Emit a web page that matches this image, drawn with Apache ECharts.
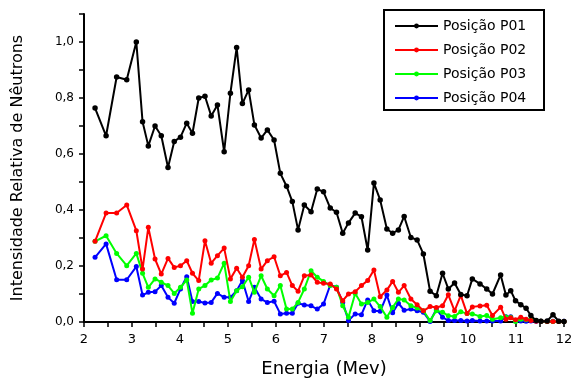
<!DOCTYPE html>
<html>
<head>
<meta charset="utf-8">
<script src="https://cdn.jsdelivr.net/npm/echarts@6/dist/echarts.min.js"></script>
<style>
  html, body { margin: 0; padding: 0; background: #fff; }
  #main { width: 582px; height: 383px; }
</style>
</head>
<body>
<div id="main"></div>
<script>
// energia (MeV) de cada ponto
const energia = [
  2.23, 2.46, 2.68, 2.89, 3.09, 3.22, 3.34, 3.48, 3.61, 3.75,
  3.88, 4.01, 4.14, 4.26, 4.39, 4.52, 4.65, 4.78, 4.92, 5.05,
  5.18, 5.30, 5.43, 5.55, 5.69, 5.82, 5.96, 6.09, 6.22, 6.34,
  6.46, 6.59, 6.73, 6.86, 6.99, 7.13, 7.26, 7.39, 7.51, 7.65,
  7.78, 7.91, 8.04, 8.17, 8.31, 8.43, 8.55, 8.67, 8.81, 8.94,
  9.07, 9.21, 9.34, 9.47, 9.59, 9.72, 9.85, 9.98, 10.09, 10.25,
  10.39, 10.51, 10.68, 10.79, 10.89, 10.99, 11.10, 11.21, 11.31, 11.42,
  11.52, 11.65, 11.77, 11.89, 12.0
]

const p01 = [
  0.764, 0.665, 0.875, 0.865, 1.0, 0.715, 0.629, 0.70, 0.665, 0.552,
  0.645, 0.66, 0.71, 0.674, 0.80, 0.806, 0.736, 0.775, 0.608, 0.817,
  0.98, 0.78, 0.829, 0.704, 0.657, 0.686, 0.65, 0.531, 0.485, 0.43,
  0.329, 0.418, 0.394, 0.475, 0.465, 0.407, 0.392, 0.317, 0.354, 0.389,
  0.376, 0.257, 0.496, 0.436, 0.332, 0.317, 0.329, 0.377, 0.302, 0.293,
  0.243, 0.11, 0.094, 0.174, 0.118, 0.139, 0.098, 0.094, 0.154, 0.136,
  0.118, 0.10, 0.168, 0.096, 0.112, 0.076, 0.062, 0.049, 0.023, 0.005,
  0.003, 0.004, 0.026, 0.003, 0.002
]

const p02 = [
  0.288, 0.389, 0.389, 0.418, 0.326, 0.189, 0.338, 0.225, 0.171, 0.227,
  0.195, 0.201, 0.219, 0.174, 0.148, 0.29, 0.21, 0.237, 0.264, 0.154,
  0.192, 0.16, 0.201, 0.295, 0.189, 0.219, 0.233, 0.165, 0.177, 0.13,
  0.11, 0.165, 0.168, 0.142, 0.138, 0.136, 0.118, 0.076, 0.10, 0.108,
  0.13, 0.148, 0.186, 0.09, 0.114, 0.145, 0.106, 0.13, 0.082, 0.062,
  0.04, 0.055, 0.052, 0.058, 0.097, 0.04, 0.095, 0.03, 0.054, 0.057,
  0.06, 0.023, 0.053, 0.01, 0.015, 0.008, 0.017, 0.01, 0.005, 0.003,
  0.003, 0.002, 0.002, 0.002, 0.002
]

const p03 = [
  0.288, 0.308, 0.245, 0.201, 0.245, 0.174, 0.124, 0.154, 0.142, 0.13,
  0.102, 0.124, 0.15, 0.031, 0.118, 0.13, 0.15, 0.157, 0.21, 0.073,
  0.112, 0.126, 0.16, 0.106, 0.165, 0.118, 0.094, 0.13, 0.046, 0.046,
  0.07, 0.118, 0.183, 0.16, 0.145, 0.13, 0.124, 0.058, 0.017, 0.102,
  0.064, 0.07, 0.082, 0.055, 0.017, 0.052, 0.082, 0.079, 0.058, 0.05,
  0.04, 0.005, 0.04, 0.035, 0.022, 0.02, 0.037, 0.03, 0.029, 0.02,
  0.023, 0.01, 0.015, 0.018, 0.017, 0.002, 0.01, 0.008, 0.01, 0.005,
  0.003, 0.002, 0.002, 0.002, 0.002
]

const p04 = [
  0.231, 0.279, 0.151, 0.151, 0.198, 0.096, 0.106, 0.108, 0.13, 0.088,
  0.067, 0.118, 0.162, 0.073, 0.073, 0.068, 0.07, 0.102, 0.088, 0.088,
  0.112, 0.148, 0.073, 0.124, 0.082, 0.07, 0.074, 0.029, 0.031, 0.031,
  0.067, 0.061, 0.058, 0.046, 0.064, 0.132, 0.124, 0.07, 0.005, 0.029,
  0.026, 0.079, 0.04, 0.038, 0.096, 0.033, 0.067, 0.042, 0.046, 0.04,
  0.035, 0.002, 0.046, 0.017, 0.005, 0.005, 0.005, 0.004, 0.005, 0.004,
  0.004, 0.004, 0.004, 0.019, 0.019, 0.004, 0.004, 0.003, 0.004, 0.003,
  0.003, 0.003, 0.003, 0.003, 0.003
]

const posicoes = ['Posição P01', 'Posição P02', 'Posição P03', 'Posição P04']
const cores = ['#000000', '#ff0000', '#00ff00', '#0000ff']
const valores = [p01, p02, p03, p04]

const fonte = 'DejaVu Sans'

const chart = echarts.init(document.getElementById('main'), null, { renderer: 'canvas' })

const series = posicoes.map((nome, k) => ({
  name: nome,
  type: 'line',
  data: energia.map((e, i) => [e, valores[k][i]]),
  symbol: 'circle',
  symbolSize: k === 0 ? 5.5 : 5,
  showSymbol: true,
  itemStyle: { color: cores[k] },
  lineStyle: { color: cores[k], width: 2 },
  z: 10 - k,
}))

chart.setOption({
  animation: false,
  grid: {
    left: 84,
    right: 18,
    top: 14,
    bottom: 60,
  },
  // moldura da legenda
  graphic: [{
    type: 'rect',
    left: 383,
    top: 9,
    shape: { width: 160, height: 100 },
    style: { fill: '#fff', stroke: '#000', lineWidth: 2 },
    z: 50,
  }],
  legend: {
    data: posicoes,
    orient: 'vertical',
    left: 394,
    top: 19,
    itemWidth: 43,
    itemHeight: 6,
    itemGap: 10,
    padding: 0,
    z: 60,
    textStyle: { fontFamily: fonte, fontSize: 14, color: '#000' },
  },
  xAxis: {
    type: 'value',
    min: 2,
    max: 12,
    interval: 0.5,
    name: 'Energia (Mev)',
    nameLocation: 'middle',
    nameGap: 38,
    nameTextStyle: { fontFamily: fonte, fontSize: 18, color: '#000' },
    axisLine: { lineStyle: { color: '#000', width: 2 } },
    axisTick: { inside: false, length: 5, lineStyle: { color: '#000', width: 1.5 } },
    axisLabel: {
      fontFamily: fonte,
      fontSize: 13,
      color: '#000',
      margin: 11,
      formatter: v => (Math.abs(v - Math.round(v)) < 1e-6 ? String(Math.round(v)) : ''),
    },
    splitLine: { show: false },
  },
  yAxis: {
    type: 'value',
    min: 0,
    max: 1.1,
    interval: 0.1,
    name: 'Intensidade Relativa de Nêutrons',
    nameLocation: 'middle',
    nameGap: 58,
    nameTextStyle: { fontFamily: fonte, fontSize: 16, color: '#000' },
    axisLine: { show: true, lineStyle: { color: '#000', width: 2 } },
    axisTick: { show: true, length: 5, lineStyle: { color: '#000', width: 1.5 } },
    axisLabel: {
      fontFamily: fonte,
      fontSize: 12,
      color: '#000',
      margin: 10,
      formatter: v => {
        const d = Math.round(v * 10)
        if (d % 2 !== 0) return ''
        return (d / 10).toFixed(1).replace('.', ',')
      },
    },
    splitLine: { show: false },
  },
  series,
})
</script>
</body>
</html>
